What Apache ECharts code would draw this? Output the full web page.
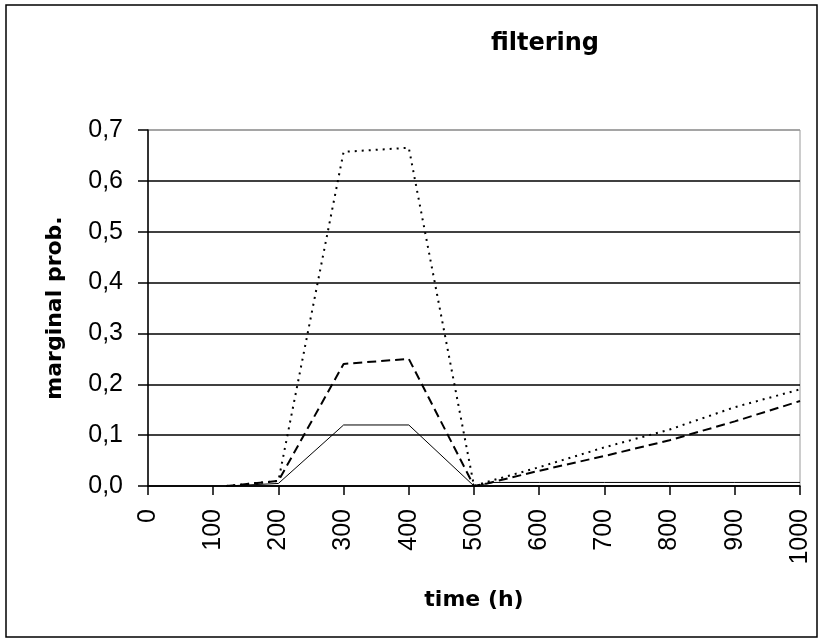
<!DOCTYPE html>
<html>
<head>
<meta charset="utf-8">
<script src="https://cdn.jsdelivr.net/npm/echarts@6/dist/echarts.min.js"></script>
<style>html,body{margin:0;padding:0;background:#fff}#c{width:823px;height:643px}</style>
</head>
<body>
<div id="c"></div>
<script>
var titleText = 'filtering';
var xName = 'time (h)';
var yName = 'marginal prob.';
var xTicks = [0, 100, 200, 300, 400, 500, 600, 700, 800, 900, 1000];
var yTicks = [0, 0.1, 0.2, 0.3, 0.4, 0.5, 0.6, 0.7];

var solidT   = [120, 200, 300, 400, 500, 530, 600, 700, 800, 900, 1000];
var solidV   = [0, 0.005, 0.12, 0.12, 0, 0.007, 0.007, 0.007, 0.007, 0.007, 0.007];
var dashedT  = [120, 200, 300, 400, 500, 520, 600, 700, 800, 900, 1000];
var dashedV  = [0, 0.01, 0.24, 0.25, 0, 0.005, 0.03, 0.059, 0.09, 0.127, 0.167];
var dottedT  = [120, 200, 300, 400, 500, 520, 600, 700, 800, 900, 1000];
var dottedV  = [0, 0.01, 0.657, 0.665, 0, 0.008, 0.037, 0.076, 0.111, 0.155, 0.19];

function pairs(t, v) { return t.map(function (x, i) { return [x, v[i]]; }); }

var chart = echarts.init(document.getElementById('c'), null, {renderer: 'canvas'});
var FONT = '"Liberation Sans", Arial, sans-serif';
var BFONT = '"DejaVu Sans", Verdana, sans-serif';
chart.setOption({
  animation: false,
  backgroundColor: '#fff',
  grid: {left: 148, right: 23, top: 130, bottom: 157, show: true, borderColor: '#999', borderWidth: 1, backgroundColor: 'transparent'},
  graphic: [
    {type: 'rect', shape: {x: 6, y: 5, width: 811, height: 632}, style: {fill: 'none', stroke: '#000', lineWidth: 1.5}, z: 0},
    {type: 'text', x: 545, y: 44, style: {text: titleText, align: 'center', verticalAlign: 'middle', font: 'bold 24px ' + BFONT, fill: '#000'}}
  ],
  xAxis: {
    type: 'value', min: xTicks[0], max: xTicks[xTicks.length - 1], interval: 100,
    name: xName, nameLocation: 'middle', nameGap: 103,
    nameTextStyle: {fontFamily: BFONT, fontSize: 22, fontWeight: 'bold', color: '#000'},
    axisLine: {show: true, onZero: false, lineStyle: {color: '#000', width: 1.5}},
    axisTick: {show: true, length: 9, lineStyle: {color: '#000', width: 1.5}},
    axisLabel: {rotate: 90, margin: 23, fontFamily: FONT, fontSize: 25, color: '#000',
      formatter: function (v) { return String(v); }},
    splitLine: {show: false}
  },
  yAxis: {
    type: 'value', min: yTicks[0], max: yTicks[yTicks.length - 1], interval: 0.1,
    name: yName, nameLocation: 'middle', nameGap: 82,
    nameTextStyle: {fontFamily: BFONT, fontSize: 22, fontWeight: 'bold', color: '#000'},
    axisLine: {show: true, lineStyle: {color: '#000', width: 1.5}},
    axisTick: {show: true, length: 10, lineStyle: {color: '#000', width: 1.5}},
    axisLabel: {margin: 25, fontFamily: FONT, fontSize: 25, color: '#000',
      formatter: function (v) { return v.toFixed(1).replace('.', ','); }},
    splitLine: {show: true, lineStyle: {color: ['#000', '#000', '#000', '#000', '#000', '#000', '#000', '#999'], width: 1.5}}
  },
  series: [
    {type: 'line', data: pairs(solidT, solidV), showSymbol: false, lineStyle: {color: '#000', width: 1, type: 'solid'}, z: 3},
    {type: 'line', data: pairs(dashedT, dashedV), showSymbol: false, lineStyle: {color: '#000', width: 2, type: [9, 5]}, z: 3},
    {type: 'line', data: pairs(dottedT, dottedV), showSymbol: false, lineStyle: {color: '#000', width: 2, type: [2, 5]}, z: 3}
  ]
});
</script>
</body>
</html>
